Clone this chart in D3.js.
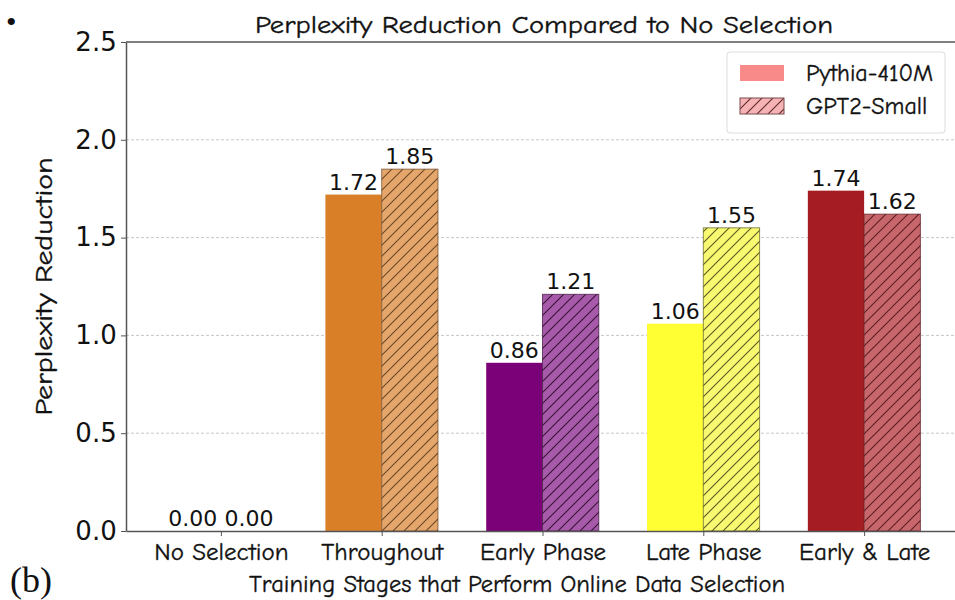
<!DOCTYPE html>
<html>
<head>
<meta charset="utf-8">
<script src="https://cdn.jsdelivr.net/npm/d3@7"></script>
<style>
  body { margin: 0; background: #fff; }
  svg { display: block; }
  .comic { font-family: "Comic Sans MS", "Comic Neue", "DejaVu Sans Condensed", sans-serif; fill: #111; stroke: #111; stroke-width: 0.35px; }
  .num { font-family: "DejaVu Sans", sans-serif; fill: #111; }
</style>
</head>
<body>
<div id="chart"></div>
<script>
  const categories = ["No Selection", "Throughout", "Early Phase", "Late Phase", "Early & Late"];
  const pythia = [0.00, 1.72, 0.86, 1.06, 1.74];
  const gpt2 = [0.00, 1.85, 1.21, 1.55, 1.62];
  const solidColors = ["#ffffff", "#D97F27", "#7A0177", "#FFFF33", "#A51C22"];
  const hatchColors = ["#ffffff", "#E4A66B", "#A65AA9", "#F9F871", "#C7676C"];
  const edgeColors = ["#ffffff", "#6b4626", "#3a1238", "#5a5a1e", "#5c1c20"];
  const yTicks = [0.0, 0.5, 1.0, 1.5, 2.0, 2.5];

  const width = 955, height = 600;
  const margin = {left: 126, top: 42, right: -4, bottom: 69};
  const barW = 0.35;

  const svg = d3.select("#chart").append("svg")
    .attr("width", width).attr("height", height);

  const x = d3.scaleLinear()
    .domain([-0.59, categories.length - 1 + 0.59])
    .range([margin.left, width - margin.right]);
  const y = d3.scaleLinear()
    .domain([0, 2.5])
    .range([height - margin.bottom, margin.top]);

  /*============= hatch patterns ===============*/
  const defs = svg.append("defs");
  const hatch = (id, color) => {
    const p = defs.append("pattern")
      .attr("id", id)
      .attr("patternUnits", "userSpaceOnUse")
      .attr("width", 11).attr("height", 11);
    p.append("path")
      .attr("d", "M0,11 L11,0 M-3,3 L3,-3 M8,14 L14,8")
      .attr("stroke", color).attr("stroke-width", 1.1).attr("fill", "none");
  };
  edgeColors.forEach((c, i) => hatch("hatch" + i, c));
  hatch("hatchLegend", "#5c2a2a");

  /*============= grid ===============*/
  svg.append("g")
    .selectAll("line")
    .data(yTicks.slice(1, -1))
    .join("line")
    .attr("x1", x.range()[0]).attr("x2", x.range()[1])
    .attr("y1", d => y(d)).attr("y2", d => y(d))
    .attr("stroke", "#c8c8c8").attr("stroke-width", 1)
    .attr("stroke-dasharray", "3,2");

  /*============= bars ===============*/
  const idx = d3.range(categories.length);
  svg.append("g").selectAll("rect")
    .data(idx)
    .join("rect")
    .attr("x", i => x(i - barW))
    .attr("width", x(barW) - x(0))
    .attr("y", i => y(pythia[i]))
    .attr("height", i => y(0) - y(pythia[i]))
    .attr("fill", i => solidColors[i]);

  const g2 = svg.append("g");
  g2.selectAll("rect.fill")
    .data(idx)
    .join("rect")
    .attr("class", "fill")
    .attr("x", i => x(i))
    .attr("width", x(barW) - x(0))
    .attr("y", i => y(gpt2[i]))
    .attr("height", i => y(0) - y(gpt2[i]))
    .attr("fill", i => hatchColors[i]);
  g2.selectAll("rect.hatch")
    .data(idx.filter(i => gpt2[i] > 0))
    .join("rect")
    .attr("class", "hatch")
    .attr("x", i => x(i))
    .attr("width", x(barW) - x(0))
    .attr("y", i => y(gpt2[i]))
    .attr("height", i => y(0) - y(gpt2[i]))
    .attr("fill", i => `url(#hatch${i})`)
    .attr("stroke", i => edgeColors[i])
    .attr("stroke-opacity", 0.7)
    .attr("stroke-width", 1);

  /*============= value labels ===============*/
  const labels = svg.append("g").attr("class", "num")
    .attr("font-size", 22).attr("text-anchor", "middle");
  idx.forEach(i => {
    labels.append("text")
      .attr("x", x(i - barW / 2)).attr("y", y(pythia[i]) - 5)
      .text(pythia[i].toFixed(2));
    labels.append("text")
      .attr("x", x(i + barW / 2)).attr("y", y(gpt2[i]) - 5)
      .text(gpt2[i].toFixed(2));
  });

  /*============= axes ===============*/
  const xAxis = svg.append("g")
    .attr("transform", `translate(0,${y(0)})`)
    .call(d3.axisBottom(x).tickValues(idx).tickFormat(i => categories[i]).tickSize(5).tickSizeOuter(0));
  xAxis.select(".domain").attr("stroke", "#555").attr("stroke-width", 1.5);
  xAxis.selectAll(".tick line").attr("stroke", "#555");
  xAxis.selectAll(".tick text").attr("class", "comic")
    .attr("font-size", 25).attr("dy", "0.85em");

  const yAxis = svg.append("g")
    .attr("transform", `translate(${margin.left},0)`)
    .call(d3.axisLeft(y).tickValues(yTicks).tickFormat(d3.format(".1f")).tickSize(5).tickSizeOuter(0));
  yAxis.select(".domain").attr("stroke", "#555").attr("stroke-width", 1.5);
  yAxis.selectAll(".tick line").attr("stroke", "#555");
  yAxis.selectAll(".tick text").attr("class", "num")
    .attr("font-size", 26).attr("dx", "-0.05em");

  svg.append("line")
    .attr("x1", x.range()[0]).attr("x2", x.range()[1])
    .attr("y1", y(2.5)).attr("y2", y(2.5))
    .attr("stroke", "#555").attr("stroke-width", 1.5);

  /*============= titles ===============*/
  svg.append("text").attr("class", "comic")
    .attr("x", 544).attr("y", 33)
    .attr("text-anchor", "middle").attr("font-size", 24)
    .attr("textLength", 578).attr("lengthAdjust", "spacingAndGlyphs")
    .text("Perplexity Reduction Compared to No Selection");

  svg.append("text").attr("class", "comic")
    .attr("transform", `translate(52,${(y(0) + y(2.5)) / 2}) rotate(-90)`)
    .attr("text-anchor", "middle").attr("font-size", 24)
    .attr("textLength", 258).attr("lengthAdjust", "spacingAndGlyphs")
    .text("Perplexity Reduction");

  svg.append("text").attr("class", "comic")
    .attr("x", 517).attr("y", 592)
    .attr("text-anchor", "middle").attr("font-size", 24)
    .attr("textLength", 536).attr("lengthAdjust", "spacingAndGlyphs")
    .text("Training Stages that Perform Online Data Selection");

  svg.append("text")
    .attr("x", 10).attr("y", 592)
    .attr("font-family", "Liberation Serif, serif").attr("font-size", 36)
    .attr("fill", "#111")
    .text("(b)");

  svg.append("text")
    .attr("x", 6).attr("y", 32)
    .attr("font-family", "Liberation Serif, serif").attr("font-size", 30)
    .attr("fill", "#111")
    .text("•");

  /*============= legend ===============*/
  const legend = svg.append("g").attr("transform", "translate(727,52)");
  legend.append("rect")
    .attr("width", 218).attr("height", 81).attr("rx", 3)
    .attr("fill", "#fff").attr("fill-opacity", 0.85)
    .attr("stroke", "#ddd");
  const legendItems = [
    {name: "Pythia-410M", fill: "#F88A8A", hatched: false},
    {name: "GPT2-Small", fill: "#F6B2B5", hatched: true}
  ];
  legendItems.forEach((d, k) => {
    const row = legend.append("g").attr("transform", `translate(13,${13 + k * 33})`);
    row.append("rect").attr("width", 44).attr("height", 16).attr("fill", d.fill);
    if (d.hatched) {
      row.append("rect").attr("width", 44).attr("height", 16)
        .attr("fill", "url(#hatchLegend)")
        .attr("stroke", "#7a4a4a").attr("stroke-width", 1);
    }
    row.append("text").attr("class", "comic")
      .attr("x", 66).attr("y", 16).attr("font-size", 24)
      .text(d.name);
  });
</script>
</body>
</html>
